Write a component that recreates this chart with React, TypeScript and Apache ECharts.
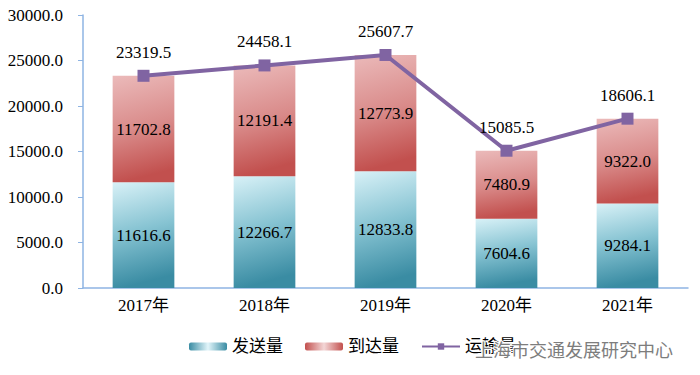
import React, { useEffect, useRef } from "react";
import * as echarts from "echarts";

const categories = ["2017年", "2018年", "2019年", "2020年", "2021年"];
const sendValues = [11616.6, 12266.7, 12833.8, 7604.6, 9284.1];
const arriveValues = [11702.8, 12191.4, 12773.9, 7480.9, 9322.0];
const totalValues = [23319.5, 24458.1, 25607.7, 15085.5, 18606.1];
const seriesNames = ["发送量", "到达量", "运输量"];
const watermark = "上海市交通发展研究中心";

const serif = "'Liberation Serif', 'Times New Roman', 'Noto Sans CJK SC', serif";

export default function App() {
  const ref = useRef<HTMLDivElement>(null);
  useEffect(() => {
    const chart = echarts.init(ref.current!, null, { renderer: "svg" });
    const blueGrad = new echarts.graphic.LinearGradient(0, 0, 0.15, 1, [
      { offset: 0, color: "#d8f1f7" },
      { offset: 0.5, color: "#86c3d2" },
      { offset: 1, color: "#3a8ca3" },
    ]);
    const redGrad = new echarts.graphic.LinearGradient(0, 0, 0.15, 1, [
      { offset: 0, color: "#ebbaba" },
      { offset: 0.55, color: "#d98a89" },
      { offset: 1, color: "#c2504e" },
    ]);
    const legendBlue = new echarts.graphic.LinearGradient(0, 0, 1, 0, [
      { offset: 0, color: "#3a8ca3" },
      { offset: 0.5, color: "#e2f5fa" },
      { offset: 1, color: "#3a8ca3" },
    ]);
    const legendRed = new echarts.graphic.LinearGradient(0, 0, 1, 0, [
      { offset: 0, color: "#c2504e" },
      { offset: 0.5, color: "#f3d6d6" },
      { offset: 1, color: "#c2504e" },
    ]);
    const labelStyle = {
      show: true,
      color: "#000",
      fontFamily: serif,
      fontSize: 17,
      formatter: (p: any) => Number(p.value).toFixed(1),
    };
    chart.setOption({
      animation: false,
      grid: { left: 83, right: 12, top: 15, bottom: 87 },
      legend: {
        bottom: 15,
        left: 184,
        itemWidth: 38,
        itemHeight: 8,
        itemGap: 22,
        textStyle: { fontFamily: serif, fontSize: 17, color: "#000" },
        data: [
          { name: seriesNames[0], itemStyle: { color: legendBlue } },
          { name: seriesNames[1], itemStyle: { color: legendRed } },
          { name: seriesNames[2] },
        ],
      },
      xAxis: {
        type: "category",
        data: categories,
        axisLine: { lineStyle: { color: "#8eb4e3", width: 1.5 } },
        axisTick: { show: false },
        axisLabel: { color: "#000", fontFamily: serif, fontSize: 17, margin: 9 },
      },
      yAxis: {
        type: "value",
        min: 0,
        max: 30000,
        interval: 5000,
        splitLine: { show: false },
        axisLine: { show: true, lineStyle: { color: "#8eb4e3", width: 1.5 } },
        axisTick: { show: true, length: 5, lineStyle: { color: "#8eb4e3" } },
        axisLabel: {
          color: "#000",
          fontFamily: serif,
          fontSize: 17,
          margin: 20,
          formatter: (v: number) => v.toFixed(1),
        },
      },
      series: [
        {
          name: seriesNames[0],
          type: "bar",
          stack: "t",
          barWidth: "51%",
          data: sendValues,
          itemStyle: { color: blueGrad },
          label: { ...labelStyle, position: "inside" },
        },
        {
          name: seriesNames[1],
          type: "bar",
          stack: "t",
          data: arriveValues,
          itemStyle: { color: redGrad },
          label: { ...labelStyle, position: "inside" },
        },
        {
          name: seriesNames[2],
          type: "line",
          data: totalValues,
          symbol: "rect",
          symbolSize: 12,
          lineStyle: { color: "#8064a2", width: 4 },
          itemStyle: { color: "#8064a2" },
          label: { ...labelStyle, position: "top", distance: 9 },
        },
      ],
      graphic: [
        {
          type: "text",
          left: 474,
          bottom: 16,
          z: 100,
          style: {
            text: watermark,
            fontFamily: "'Noto Sans CJK SC', sans-serif",
            fontSize: 18,
            fill: "#7d7d7d",
            stroke: "#ffffff",
            lineWidth: 2,
          },
        },
      ],
    });
    return () => chart.dispose();
  }, []);
  return (
    <div
      ref={ref}
      style={{ width: 700, height: 375, position: "fixed", left: 0, top: 0, background: "#fff" }}
    />
  );
}
